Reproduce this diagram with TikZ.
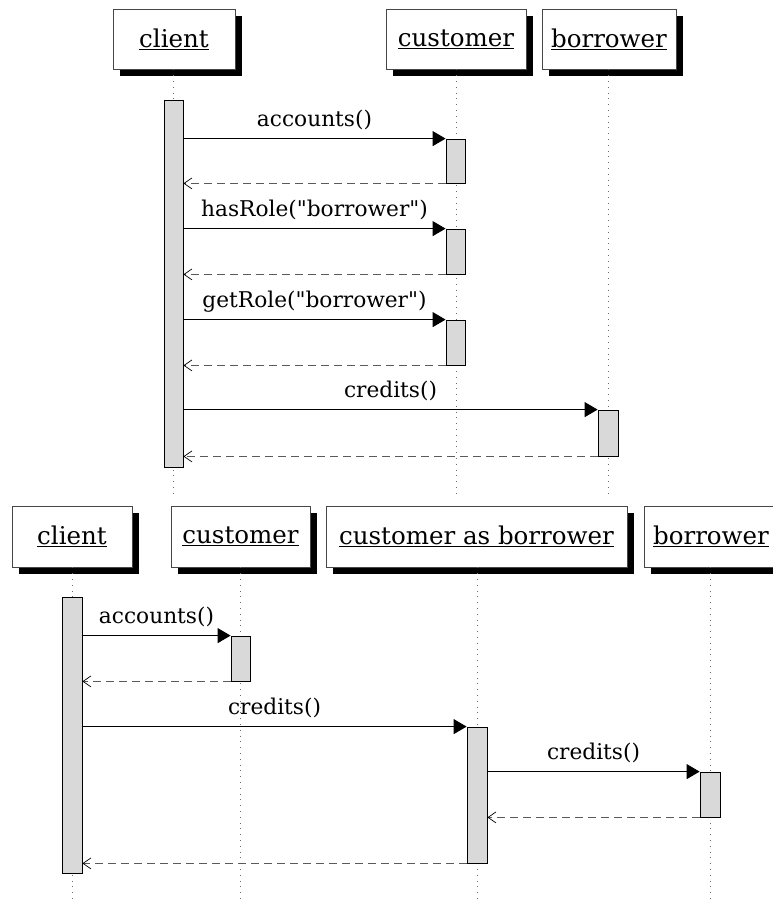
\documentclass[tikz,border=0pt]{standalone}
\usepackage{fontspec}
\setmainfont{DejaVu Serif}[Ligatures=TeXOff]
\usetikzlibrary{arrows.meta,shadows}
\definecolor{edgegray}{RGB}{70,70,70}
\definecolor{actfill}{RGB}{217,217,217}
\definecolor{dashgray}{RGB}{90,90,90}
\definecolor{dotgray}{RGB}{110,110,110}
\tikzset{
  objbox/.style={draw=edgegray, line width=0.9pt, fill=white, inner sep=0pt,
    minimum height=60pt,
    general shadow={fill=black, shadow xshift=7pt, shadow yshift=-7pt},
    font=\fontsize{24.5}{29}\selectfont},
  actbox/.style={draw=black, line width=0.8pt, fill=actfill, inner sep=0pt, minimum width=19pt},
  lifeline/.style={draw=dotgray, line width=0.8pt, dash pattern=on 1pt off 4.8pt},
  callmsg/.style={draw=black, line width=0.9pt, -{Triangle[length=13pt,width=15pt]}},
  retmsg/.style={draw=dashgray, line width=1pt, dash pattern=on 8pt off 5pt,
    -{Straight Barb[length=8pt,width=11pt,line width=0.7pt,color=black]}},
  msglabel/.style={font=\fontsize{21.7}{26}\selectfont, anchor=base, inner sep=0pt, yshift=12pt},
}
\begin{document}
\begin{tikzpicture}[x=1pt,y=-1pt]
\useasboundingbox[fill=white] (0,0) rectangle (772,903);

% ---------- top diagram ----------
\node[objbox, minimum width=122pt] (tclient) at (174,39) {\underline{client}};
\node[objbox, minimum width=140pt] (tcust) at (456,39) {\underline{customer}};
\node[objbox, minimum width=134pt] (tborr) at (609,39) {\underline{borrower}};

\coordinate (tclientEnd) at (173.5,498);
\coordinate (tcustEnd) at (456,498);
\coordinate (tborrEnd) at (608,498);
\draw[lifeline] (tclient.south -| tclientEnd) -- (tclientEnd);
\draw[lifeline] (tcust.south -| tcustEnd) -- (tcustEnd);
\draw[lifeline] (tborr.south -| tborrEnd) -- (tborrEnd);

\node[actbox, minimum height=367pt] (a1) at (173.5,283.5) {};
\node[actbox, minimum height=44pt] (c1) at (455.5,161) {};
\node[actbox, minimum height=45pt] (c2) at (455.5,251.5) {};
\node[actbox, minimum height=45pt] (c3) at (455.5,342.5) {};
\node[actbox, minimum height=46pt, minimum width=20pt] (b1) at (608,433) {};

\draw[callmsg] (c1.north west -| a1.east) -- (c1.north west)
  node[msglabel, midway] (l1) {accounts()};
\draw[retmsg] (c1.south west) -- (c1.south west -| a1.east);
\draw[callmsg] (c2.north west -| a1.east) -- (c2.north west)
  node[msglabel, midway] (l2) {hasRole("borrower")};
\draw[retmsg] (c2.south west) -- (c2.south west -| a1.east);
\draw[callmsg] (c3.north west -| a1.east) -- (c3.north west)
  node[msglabel, midway] (l3) {getRole("borrower")};
\draw[retmsg] (c3.south west) -- (c3.south west -| a1.east);
\draw[callmsg] (b1.north west -| a1.east) -- (b1.north west)
  node[msglabel, midway] (l4) {credits()};
\draw[retmsg] (b1.south west) -- (b1.south west -| a1.east);

% ---------- bottom diagram ----------
\node[objbox, minimum width=120pt, minimum height=61pt] (bclient) at (72,536.5) {\underline{client}};
\node[objbox, minimum width=139pt, minimum height=61pt] (bcust) at (240.5,536.5) {\underline{customer}};
\node[objbox, minimum width=301pt, minimum height=61pt] (bcab) at (476.5,536.5) {\underline{customer as borrower}};
\node[objbox, minimum width=134pt, minimum height=61pt] (bborr) at (711,536.5) {\underline{borrower}};

\coordinate (bclientEnd) at (72,903);
\coordinate (bcustEnd) at (240.5,903);
\coordinate (bcabEnd) at (477,903);
\coordinate (bborrEnd) at (710,903);
\draw[lifeline] (bclient.south -| bclientEnd) -- (bclientEnd);
\draw[lifeline] (bcust.south -| bcustEnd) -- (bcustEnd);
\draw[lifeline] (bcab.south -| bcabEnd) -- (bcabEnd);
\draw[lifeline] (bborr.south -| bborrEnd) -- (bborrEnd);

\node[actbox, minimum height=276pt, minimum width=20pt] (a2) at (72,735) {};
\node[actbox, minimum height=45pt] (c4) at (240.5,658.5) {};
\node[actbox, minimum height=136pt, minimum width=20pt] (cab1) at (477,795) {};
\node[actbox, minimum height=45pt, minimum width=20pt] (bb1) at (710,794.5) {};

\draw[callmsg] (c4.north west -| a2.east) -- (c4.north west)
  node[msglabel, midway] (l5) {accounts()};
\draw[retmsg] (c4.south west) -- (c4.south west -| a2.east);
\draw[callmsg] (cab1.north west -| a2.east) -- (cab1.north west)
  node[msglabel, midway] (l6) {credits()};
\draw[callmsg] (bb1.north west -| cab1.east) -- (bb1.north west)
  node[msglabel, midway] (l7) {credits()};
\draw[retmsg] (bb1.south west) -- (bb1.south west -| cab1.east);
\draw[retmsg] (cab1.south west) -- (cab1.south west -| a2.east);
\end{tikzpicture}
\end{document}
